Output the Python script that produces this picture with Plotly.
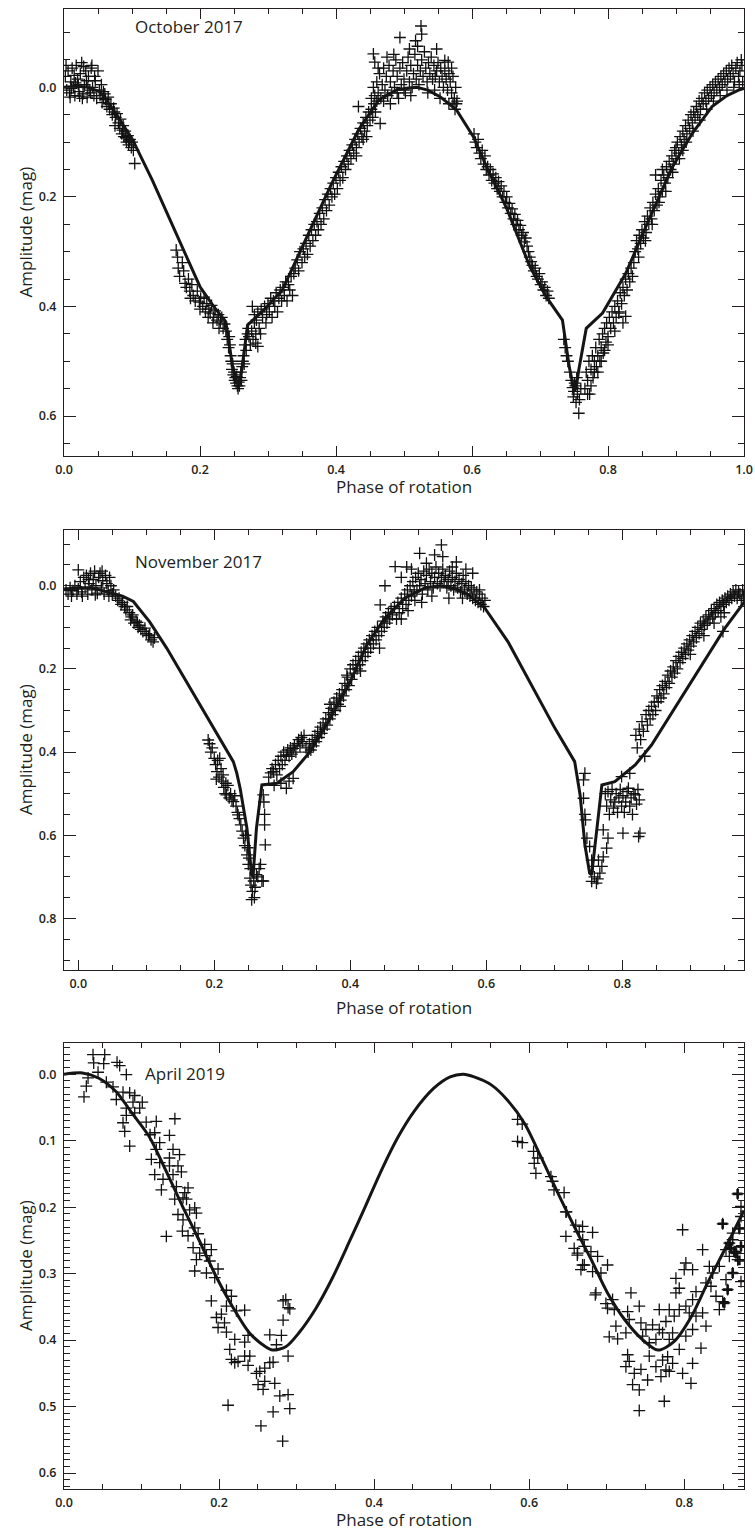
import plotly.graph_objects as go

# ---------------- October 2017 ----------------
oct_points = [
 (0.002,-0.02),(0.004,0.005),(0.006,-0.03),(0.008,0.01),(0.010,-0.01),(0.012,-0.035),(0.014,0.0),(0.016,0.015),
 (0.018,-0.04),(0.020,-0.015),(0.022,0.008),(0.024,-0.025),(0.026,-0.045),(0.028,0.012),(0.030,-0.005),(0.032,-0.03),
 (0.034,0.018),(0.036,-0.02),(0.038,0.005),(0.040,-0.035),(0.042,0.0),(0.044,0.015),(0.046,-0.012),(0.048,0.02),
 (0.050,-0.03),(0.003,-0.04),(0.009,0.018),(0.015,-0.022),(0.021,-0.005),(0.027,0.02),(0.033,-0.012),(0.039,0.01),
 (0.045,-0.02),(0.052,0.005),(0.055,-0.005),(0.058,0.02),(0.011,0.002),(0.017,-0.008),(0.023,0.016),(0.029,-0.038),
 (0.035,0.0),(0.041,-0.04),
 (0.053,0.015),(0.056,0.028),(0.058,0.008),(0.061,0.022),(0.063,0.035),(0.065,0.018),(0.067,0.04),(0.069,0.03),
 (0.071,0.05),(0.073,0.038),(0.075,0.07),(0.076,0.055),(0.078,0.048),(0.08,0.065),(0.082,0.075),(0.083,0.058),
 (0.085,0.085),(0.087,0.07),(0.088,0.09),(0.09,0.08),(0.092,0.1),(0.094,0.088),(0.095,0.105),(0.097,0.095),
 (0.099,0.11),(0.1,0.1),(0.102,0.115),(0.104,0.139),(0.086,0.078),(0.091,0.092),(0.096,0.098),(0.074,0.045),
 (0.066,0.03),(0.06,0.012),
 (0.165,0.297),(0.167,0.31),(0.168,0.33),(0.17,0.345),(0.174,0.32),(0.176,0.335),(0.178,0.358),(0.18,0.365),
 (0.183,0.35),(0.185,0.372),(0.188,0.36),(0.19,0.38),(0.193,0.39),(0.196,0.372),(0.199,0.392),(0.201,0.385),
 (0.204,0.4),(0.206,0.383),(0.208,0.41),(0.21,0.395),(0.213,0.405),(0.215,0.412),(0.217,0.398),(0.22,0.42),
 (0.222,0.408),(0.225,0.425),(0.227,0.415),(0.23,0.428),(0.232,0.42),(0.234,0.44),(0.236,0.432),(0.212,0.42),
 (0.2,0.405),(0.186,0.385),(0.219,0.43),(0.228,0.44),
 (0.238,0.445),(0.24,0.46),(0.242,0.475),(0.243,0.455),(0.245,0.49),(0.246,0.5),(0.247,0.515),(0.248,0.505),
 (0.249,0.525),(0.25,0.52),(0.251,0.535),(0.252,0.53),(0.253,0.54),(0.255,0.545),(0.256,0.55),(0.257,0.538),
 (0.258,0.545),(0.259,0.53),(0.26,0.52),(0.261,0.535),(0.262,0.51),(0.263,0.5),(0.264,0.49),(0.265,0.505),
 (0.266,0.47),(0.267,0.46),(0.268,0.48),(0.27,0.45),(0.271,0.44),(0.272,0.455),(0.274,0.47),(0.276,0.445),
 (0.278,0.46),(0.28,0.43),(0.282,0.45),(0.244,0.47),(0.254,0.528),(0.282,0.467),(0.285,0.473),
 (0.277,0.4),(0.28,0.415),(0.283,0.425),(0.285,0.41),(0.287,0.44),(0.29,0.405),(0.292,0.42),(0.295,0.4),
 (0.297,0.43),(0.3,0.395),(0.302,0.41),(0.304,0.385),(0.306,0.42),(0.308,0.39),(0.31,0.4),(0.312,0.375),
 (0.314,0.41),(0.316,0.385),(0.318,0.37),(0.32,0.39),(0.322,0.365),(0.324,0.38),(0.326,0.355),(0.328,0.39),
 (0.33,0.36),(0.332,0.37),(0.334,0.345),(0.336,0.38),(0.338,0.34),(0.289,0.45),(0.298,0.415),
 (0.34,0.33),(0.343,0.315),(0.345,0.335),(0.347,0.3),(0.35,0.32),(0.352,0.295),(0.354,0.31),(0.356,0.285),
 (0.358,0.305),(0.36,0.27),(0.362,0.29),(0.364,0.26),(0.366,0.28),(0.368,0.25),(0.37,0.27),(0.372,0.245),
 (0.374,0.26),(0.376,0.23),(0.378,0.25),(0.38,0.22),(0.382,0.24),(0.384,0.205),(0.386,0.225),(0.388,0.195),
 (0.39,0.215),(0.392,0.185),(0.394,0.2),(0.396,0.175),(0.398,0.195),(0.4,0.165),(0.402,0.185),(0.404,0.155),
 (0.406,0.17),(0.408,0.145),(0.41,0.165),(0.412,0.135),(0.414,0.15),(0.416,0.125),(0.418,0.14),(0.42,0.115),
 (0.422,0.13),(0.424,0.105),(0.426,0.12),(0.428,0.095),(0.43,0.11),(0.432,0.085),(0.434,0.1),(0.436,0.075),
 (0.438,0.09),(0.44,0.065),(0.442,0.08),(0.444,0.055),(0.446,0.07),(0.448,0.045),(0.45,0.06),(0.452,0.04),
 (0.454,0.055),(0.456,0.03),(0.458,0.045),(0.46,0.025),(0.44,0.095),(0.445,0.09),(0.43,0.125),(0.433,0.035),
 (0.452,0.02),(0.455,0.0),(0.457,0.015),(0.46,-0.01),(0.462,0.01),(0.464,-0.025),(0.466,0.02),(0.468,-0.005),
 (0.47,-0.035),(0.472,0.005),(0.474,-0.02),(0.476,0.015),(0.478,-0.04),(0.48,-0.01),(0.482,0.01),(0.484,-0.03),
 (0.486,0.0),(0.488,-0.05),(0.49,-0.02),(0.492,0.02),(0.494,-0.035),(0.496,-0.005),(0.498,-0.045),(0.5,-0.015),
 (0.502,0.01),(0.504,-0.03),(0.506,-0.055),(0.508,-0.01),(0.51,-0.04),(0.512,0.0),(0.514,-0.025),(0.516,-0.06),
 (0.518,-0.015),(0.52,-0.04),(0.522,-0.005),(0.524,-0.03),(0.526,-0.05),(0.528,-0.02),(0.53,-0.065),(0.532,-0.035),
 (0.534,-0.01),(0.536,-0.045),(0.538,-0.025),(0.54,-0.055),(0.542,-0.015),(0.544,-0.04),(0.546,-0.02),(0.548,-0.03),
 (0.55,-0.045),(0.552,-0.01),(0.554,-0.035),(0.556,-0.02),(0.558,0.0),(0.56,-0.03),(0.562,-0.015),(0.564,0.005),
 (0.566,-0.025),(0.568,-0.01),(0.57,0.01),(0.572,-0.02),(0.574,0.02),(0.576,0.0),(0.578,0.025),(0.566,0.03),
 (0.57,-0.035),(0.525,-0.112),(0.526,-0.097),(0.494,-0.091),(0.517,-0.085),(0.548,-0.07),(0.455,-0.061),(0.457,-0.046),
 (0.56,-0.049),(0.565,-0.046),(0.508,-0.07),(0.52,-0.075),(0.485,-0.06),(0.475,-0.055),(0.462,-0.035),(0.47,0.025),
 (0.48,0.03),(0.49,0.01),(0.5,0.005),(0.51,0.015),(0.545,0.005),(0.535,0.01),(0.553,0.02),(0.575,0.04),
 (0.465,0.066),(0.572,0.029),(0.577,0.03),
 (0.603,0.085),(0.605,0.1),(0.607,0.11),(0.609,0.095),(0.611,0.12),(0.613,0.13),(0.615,0.115),(0.617,0.14),
 (0.619,0.125),(0.621,0.15),(0.623,0.145),(0.625,0.16),(0.627,0.15),(0.629,0.17),(0.631,0.158),(0.633,0.175),
 (0.635,0.165),(0.637,0.185),(0.639,0.172),(0.641,0.19),(0.643,0.18),(0.645,0.2),(0.647,0.19),(0.649,0.21),
 (0.651,0.2),(0.653,0.22),(0.655,0.212),(0.657,0.23),(0.659,0.222),(0.661,0.24),(0.663,0.232),(0.665,0.25),
 (0.667,0.243),(0.669,0.26),(0.671,0.252),(0.673,0.27),(0.675,0.265),(0.677,0.282),(0.679,0.275),(0.681,0.29),
 (0.683,0.3),(0.685,0.31),(0.687,0.318),(0.689,0.325),(0.691,0.335),(0.693,0.33),(0.695,0.345),(0.697,0.35),
 (0.699,0.34),(0.701,0.36),(0.703,0.355),(0.705,0.37),(0.707,0.365),(0.709,0.38),(0.711,0.372),(0.713,0.385),
 (0.735,0.46),(0.737,0.475),(0.739,0.49),(0.741,0.5),(0.744,0.52),(0.746,0.535),(0.748,0.548),(0.75,0.555),
 (0.752,0.545),(0.753,0.575),(0.755,0.56),(0.757,0.595),(0.758,0.57),(0.76,0.55),(0.749,0.565),(0.751,0.54),
 (0.754,0.53),
 (0.766,0.55),(0.768,0.52),(0.77,0.535),(0.772,0.5),(0.773,0.56),(0.775,0.515),(0.777,0.49),(0.778,0.53),
 (0.78,0.5),(0.782,0.475),(0.783,0.51),(0.785,0.49),(0.787,0.46),(0.788,0.5),(0.79,0.475),(0.792,0.45),
 (0.793,0.485),(0.795,0.44),(0.797,0.465),(0.798,0.43),(0.8,0.455),(0.802,0.42),(0.804,0.44),(0.806,0.41),
 (0.808,0.43),(0.81,0.4),(0.812,0.42),(0.814,0.39),(0.816,0.41),(0.818,0.375),(0.82,0.395),(0.822,0.365),
 (0.824,0.38),(0.826,0.35),(0.828,0.37),(0.83,0.34),(0.832,0.355),(0.834,0.33),(0.836,0.345),(0.838,0.32),
 (0.77,0.56),(0.775,0.545),(0.78,0.52),(0.785,0.52),(0.79,0.5),(0.795,0.48),(0.81,0.445),(0.822,0.43),(0.8,0.47),
 (0.816,0.412),(0.826,0.418),
 (0.84,0.3),(0.842,0.28),(0.844,0.295),(0.846,0.27),(0.848,0.285),(0.85,0.26),(0.852,0.275),(0.854,0.245),
 (0.856,0.265),(0.858,0.235),(0.86,0.25),(0.862,0.22),(0.864,0.24),(0.866,0.21),(0.868,0.225),(0.87,0.195),
 (0.872,0.215),(0.874,0.185),(0.876,0.2),(0.878,0.17),(0.88,0.19),(0.882,0.16),(0.884,0.175),(0.886,0.145),
 (0.888,0.165),(0.89,0.135),(0.892,0.15),(0.894,0.125),(0.896,0.14),(0.898,0.115),(0.9,0.13),(0.902,0.1),
 (0.904,0.12),(0.906,0.09),(0.908,0.105),(0.91,0.08),(0.912,0.095),(0.914,0.07),(0.916,0.085),(0.918,0.06),
 (0.92,0.075),(0.922,0.05),(0.924,0.065),(0.926,0.045),(0.928,0.055),(0.93,0.035),(0.932,0.05),(0.934,0.025),
 (0.936,0.04),(0.938,0.02),(0.94,0.03),(0.942,0.01),(0.944,0.025),(0.946,0.005),(0.948,0.02),(0.95,0.0),
 (0.952,0.015),(0.954,-0.005),(0.956,0.01),(0.958,-0.01),(0.96,0.005),(0.962,-0.015),(0.964,0.0),(0.966,-0.02),
 (0.968,-0.005),(0.97,-0.025),(0.972,-0.01),(0.974,-0.03),(0.976,-0.015),(0.978,-0.035),(0.98,-0.02),(0.982,-0.04),
 (0.984,-0.025),(0.986,-0.01),(0.988,-0.035),(0.99,-0.045),(0.992,-0.02),(0.994,-0.03),(0.996,-0.05),(0.998,-0.01),
 (0.997,-0.04),(0.993,-0.005),(0.985,0.0),(0.975,0.005),(0.965,0.015),(0.955,0.025),(0.945,0.04),(0.935,0.06),
 (0.925,0.08),(0.915,0.1),(0.905,0.13),(0.895,0.155),(0.885,0.19),(0.875,0.21),(0.865,0.25),(0.855,0.28),
 (0.845,0.31),(0.87,0.16),(0.88,0.15),(0.9,0.11),(0.91,0.115),
]
oct_model = [
 (0.0,0.0),(0.02,-0.002),(0.035,0.0),(0.053,0.008),(0.075,0.045),(0.101,0.096),(0.13,0.17),(0.16,0.254),
 (0.2,0.364),(0.22,0.4),(0.238,0.428),(0.243,0.47),(0.248,0.51),(0.255,0.54),(0.258,0.542),(0.261,0.52),
 (0.265,0.48),(0.27,0.434),(0.295,0.405),(0.321,0.37),(0.355,0.279),(0.394,0.175),(0.433,0.078),(0.463,0.023),
 (0.49,0.004),(0.519,0.0),(0.535,0.005),(0.553,0.017),(0.577,0.041),(0.602,0.09),(0.625,0.155),(0.65,0.218),
 (0.685,0.327),(0.709,0.382),(0.733,0.425),(0.738,0.47),(0.743,0.51),(0.75,0.552),(0.753,0.55),(0.757,0.516),
 (0.763,0.475),(0.768,0.44),(0.792,0.412),(0.826,0.34),(0.86,0.242),(0.895,0.145),(0.924,0.084),(0.953,0.035),
 (0.975,0.015),(0.992,0.005),(1.0,0.002),
]

# ---------------- November 2017 ----------------
nov_points = [
 (-0.018,0.01),(-0.015,0.02),(-0.012,0.005),(-0.01,0.025),(-0.008,0.012),(-0.005,0.0),(-0.002,0.02),(0.0,-0.038),
 (0.0,0.008),(0.003,-0.01),(0.005,0.015),(0.008,-0.02),(0.01,0.005),(0.012,-0.025),(0.014,0.02),(0.016,-0.005),
 (0.018,-0.03),(0.02,0.01),(0.022,-0.015),(0.024,-0.035),(0.026,0.0),(0.028,0.018),(0.03,-0.02),(0.032,-0.03),
 (0.034,0.005),(0.036,-0.012),(0.038,0.02),(0.04,-0.025),(0.042,-0.005),(0.044,0.012),(0.046,-0.02),(0.048,0.0),
 (0.05,0.02),(0.052,0.01),(0.006,0.025),(0.015,-0.015),(0.025,0.022),(0.035,-0.035),(0.045,0.025),
 (0.055,0.025),(0.058,0.035),(0.06,0.03),(0.063,0.045),(0.065,0.04),(0.068,0.05),(0.07,0.058),(0.072,0.05),
 (0.075,0.065),(0.078,0.075),(0.08,0.07),(0.082,0.09),(0.085,0.085),(0.088,0.1),(0.09,0.095),(0.092,0.105),
 (0.095,0.11),(0.098,0.102),(0.1,0.115),(0.103,0.12),(0.105,0.118),(0.107,0.13),(0.11,0.135),(0.112,0.125),
 (0.087,0.088),(0.077,0.082),
 (0.191,0.371),(0.193,0.38),(0.195,0.4),(0.197,0.39),(0.2,0.415),(0.202,0.43),(0.204,0.447),(0.205,0.42),
 (0.207,0.46),(0.208,0.415),(0.21,0.44),(0.211,0.47),(0.213,0.455),(0.214,0.485),(0.216,0.5),(0.218,0.503),
 (0.22,0.48),(0.222,0.51),(0.224,0.5),(0.226,0.515),(0.228,0.519),(0.23,0.505),(0.232,0.53),(0.234,0.545),
 (0.235,0.551),(0.237,0.56),(0.239,0.575),(0.203,0.465),(0.217,0.475),
 (0.241,0.59),(0.243,0.607),(0.245,0.625),(0.246,0.6),(0.248,0.647),(0.249,0.63),(0.25,0.67),(0.251,0.655),
 (0.2525,0.703),(0.253,0.68),(0.254,0.72),(0.255,0.755),(0.256,0.735),(0.258,0.71),(0.26,0.725),(0.262,0.695),
 (0.264,0.7),(0.266,0.68),(0.268,0.67),(0.27,0.71),(0.272,0.71),(0.259,0.75),(0.272,0.503),(0.274,0.55),
 (0.274,0.575),(0.275,0.623),(0.273,0.52),
 (0.28,0.46),(0.283,0.45),(0.285,0.44),(0.287,0.447),(0.29,0.43),(0.292,0.455),(0.294,0.42),(0.296,0.44),
 (0.298,0.41),(0.3,0.43),(0.302,0.4),(0.304,0.42),(0.306,0.407),(0.308,0.395),(0.31,0.41),(0.312,0.39),
 (0.314,0.405),(0.316,0.391),(0.318,0.385),(0.32,0.4),(0.322,0.38),(0.324,0.37),(0.326,0.385),(0.328,0.365),
 (0.33,0.375),(0.332,0.36),(0.306,0.487),(0.316,0.463),(0.298,0.475),(0.288,0.48),(0.31,0.47),
 (0.335,0.39),(0.338,0.4),(0.34,0.38),(0.342,0.395),(0.344,0.37),(0.346,0.385),(0.348,0.36),(0.35,0.375),
 (0.352,0.35),(0.354,0.365),(0.356,0.34),(0.358,0.355),(0.36,0.33),(0.362,0.345),(0.364,0.32),(0.366,0.335),
 (0.368,0.305),(0.37,0.32),(0.372,0.295),(0.374,0.31),(0.376,0.28),(0.378,0.3),(0.38,0.27),(0.382,0.285),
 (0.384,0.26),(0.386,0.275),(0.388,0.25),(0.39,0.265),(0.392,0.235),(0.394,0.25),(0.396,0.22),(0.398,0.24),
 (0.4,0.2),(0.402,0.225),(0.404,0.19),(0.406,0.21),(0.408,0.18),(0.41,0.2),(0.412,0.17),(0.414,0.19),
 (0.416,0.16),(0.418,0.18),(0.42,0.15),(0.422,0.17),(0.424,0.14),(0.426,0.16),(0.428,0.13),(0.43,0.15),
 (0.432,0.12),(0.434,0.14),(0.436,0.11),(0.438,0.13),(0.44,0.1),(0.442,0.12),(0.444,0.046),(0.446,0.11),
 (0.448,0.085),(0.45,0.1),(0.452,0.075),(0.454,0.09),(0.456,0.065),(0.458,0.08),(0.46,0.055),(0.37,0.285),
 (0.385,0.29),(0.395,0.215),(0.415,0.205),(0.443,0.15),
 (0.462,0.07),(0.465,0.05),(0.468,0.08),(0.47,0.04),(0.472,0.065),(0.475,0.03),(0.477,0.055),(0.48,0.02),
 (0.482,0.045),(0.484,0.01),(0.486,0.035),(0.488,0.0),(0.49,0.025),(0.492,-0.01),(0.494,0.015),(0.496,-0.02),
 (0.498,0.01),(0.5,-0.03),(0.502,0.0),(0.504,-0.015),(0.506,0.02),(0.508,-0.035),(0.51,-0.005),(0.512,-0.025),
 (0.514,0.01),(0.516,-0.04),(0.518,-0.01),(0.52,-0.03),(0.522,0.005),(0.524,-0.02),(0.526,-0.045),(0.528,-0.005),
 (0.53,-0.03),(0.532,0.0),(0.534,-0.02),(0.536,-0.04),(0.538,-0.01),(0.54,-0.025),(0.542,0.005),(0.544,-0.015),
 (0.546,-0.035),(0.548,0.0),(0.55,-0.02),(0.552,0.01),(0.554,-0.01),(0.556,-0.03),(0.558,0.005),(0.56,-0.015),
 (0.562,0.015),(0.564,-0.005),(0.566,-0.025),(0.568,0.01),(0.57,-0.01),(0.572,0.02),(0.574,0.0),(0.576,0.025),
 (0.578,0.005),(0.58,0.03),(0.582,0.01),(0.584,0.035),(0.586,0.015),(0.588,0.04),(0.59,0.02),(0.592,0.045),
 (0.594,0.03),(0.596,0.05),(0.598,0.035),(0.534,-0.098),(0.502,-0.078),(0.524,-0.074),(0.536,-0.07),(0.466,-0.046),
 (0.483,-0.045),(0.556,-0.057),(0.512,-0.054),(0.451,0.0),(0.475,-0.02),(0.49,-0.04),(0.55,-0.045),(0.57,-0.04),
 (0.58,-0.03),(0.545,0.03),(0.52,0.025),(0.505,0.04),(0.495,0.035),(0.485,0.06),(0.475,0.08),(0.565,0.03),
 (0.59,0.01),
 (0.745,0.451),(0.743,0.467),(0.743,0.511),(0.745,0.55),(0.746,0.563),(0.748,0.607),(0.752,0.627),(0.755,0.66),
 (0.757,0.675),(0.755,0.711),(0.762,0.715),(0.767,0.691),(0.77,0.675),(0.765,0.66),(0.772,0.652),(0.777,0.631),
 (0.772,0.587),(0.779,0.607),(0.759,0.7),(0.764,0.705),
 (0.775,0.5),(0.777,0.53),(0.779,0.495),(0.781,0.55),(0.783,0.515),(0.785,0.49),(0.787,0.535),(0.789,0.52),
 (0.791,0.5),(0.793,0.545),(0.795,0.51),(0.797,0.49),(0.799,0.53),(0.801,0.505),(0.803,0.545),(0.805,0.52),
 (0.807,0.495),(0.809,0.487),(0.811,0.53),(0.813,0.51),(0.815,0.55),(0.817,0.5),(0.819,0.503),(0.821,0.525),
 (0.823,0.49),(0.825,0.515),(0.801,0.595),(0.824,0.603),(0.826,0.595),(0.799,0.459),(0.811,0.451),
 (0.82,0.36),(0.822,0.39),(0.825,0.345),(0.827,0.37),(0.829,0.327),(0.831,0.35),(0.833,0.41),(0.835,0.31),
 (0.837,0.335),(0.839,0.3),(0.841,0.32),(0.843,0.29),(0.845,0.31),(0.847,0.28),(0.849,0.3),(0.851,0.265),
 (0.853,0.279),(0.855,0.25),(0.857,0.27),(0.859,0.24),(0.861,0.26),(0.863,0.23),(0.865,0.245),(0.867,0.215),
 (0.869,0.235),(0.871,0.205),(0.873,0.22),(0.875,0.195),(0.877,0.21),(0.879,0.18),(0.881,0.2),(0.883,0.17),
 (0.885,0.185),(0.887,0.16),(0.889,0.175),(0.891,0.15),(0.893,0.165),(0.895,0.14),(0.897,0.155),(0.899,0.13),
 (0.901,0.145),(0.903,0.12),(0.905,0.135),(0.907,0.11),(0.909,0.125),(0.911,0.1),(0.913,0.115),(0.915,0.09),
 (0.917,0.105),(0.919,0.085),(0.921,0.095),(0.923,0.075),(0.925,0.09),(0.927,0.07),(0.929,0.08),(0.931,0.06),
 (0.933,0.075),(0.935,0.055),(0.937,0.065),(0.939,0.045),(0.941,0.06),(0.943,0.04),(0.945,0.05),(0.947,0.035),
 (0.949,0.045),(0.951,0.03),(0.953,0.04),(0.955,0.025),(0.957,0.035),(0.959,0.02),(0.961,0.03),(0.963,0.015),
 (0.965,0.025),(0.967,0.01),(0.969,0.03),(0.971,0.015),(0.973,0.02),(0.975,0.035),(0.977,0.01),(0.978,0.025),
 (0.945,0.075),(0.95,0.065),(0.935,0.09),(0.92,0.12),(0.9,0.165),(0.948,0.11),
]
nov_model = [
 (-0.021,0.01),(0.0,0.005),(0.02,0.005),(0.047,0.018),(0.065,0.025),(0.081,0.038),(0.105,0.087),(0.13,0.15),
 (0.159,0.231),(0.194,0.327),(0.228,0.423),(0.233,0.45),(0.238,0.487),(0.248,0.583),(0.255,0.695),(0.257,0.7),
 (0.262,0.583),(0.27,0.479),(0.292,0.475),(0.316,0.447),(0.341,0.399),(0.365,0.335),(0.4,0.231),(0.424,0.143),
 (0.45,0.08),(0.48,0.03),(0.51,0.005),(0.534,0.0),(0.555,0.008),(0.574,0.022),(0.598,0.054),(0.632,0.135),
 (0.667,0.239),(0.701,0.343),(0.73,0.423),(0.738,0.503),(0.745,0.623),(0.752,0.691),(0.755,0.695),(0.76,0.623),
 (0.77,0.479),(0.789,0.471),(0.819,0.431),(0.843,0.383),(0.877,0.295),(0.917,0.191),(0.951,0.102),(0.979,0.04),
]

# ---------------- April 2019 ----------------
apr_points = [
 (0.0374,-0.0295),(0.0525,-0.0295),(0.0383,-0.017),(0.0512,-0.016),(0.0684,-0.018),(0.0718,-0.013),(0.0439,-0.003),
 (0.0804,0.0006),(0.031,0.0056),(0.0288,0.018),(0.0258,0.034),(0.0546,0.012),(0.0632,0.019),(0.0761,0.027),
 (0.0847,0.028),(0.0912,0.032),(0.0675,0.038),(0.089,0.042),(0.101,0.042),(0.0804,0.051),(0.0976,0.051),
 (0.0912,0.058),(0.0804,0.062),(0.0761,0.073),(0.106,0.072),(0.119,0.071),(0.143,0.067),(0.0783,0.086),
 (0.117,0.088),(0.111,0.091),(0.136,0.092),(0.1234,0.103),(0.0847,0.108),(0.119,0.113),(0.1406,0.113),
 (0.136,0.126),(0.149,0.121),(0.1127,0.128),(0.1234,0.133),(0.136,0.138),(0.147,0.138),(0.1514,0.147),
 (0.117,0.151),(0.1277,0.158),(0.1406,0.151),(0.1256,0.174),(0.145,0.169),(0.16,0.171),(0.1557,0.178),
 (0.1535,0.186),(0.158,0.188),(0.1428,0.188),(0.162,0.204),(0.1686,0.201),(0.1708,0.209),(0.147,0.211),
 (0.1535,0.219),(0.132,0.244),(0.1686,0.231),(0.1527,0.236),(0.16,0.243),(0.173,0.24),(0.1665,0.261),
 (0.1815,0.256),(0.19,0.264),(0.175,0.269),(0.1837,0.273),(0.1708,0.279),(0.188,0.281),(0.1686,0.296),
 (0.1837,0.299),(0.1987,0.293),(0.1944,0.306),(0.19,0.341),(0.2095,0.325),(0.2159,0.334),(0.2095,0.349),
 (0.2224,0.356),(0.233,0.355),(0.203,0.361),(0.1966,0.366),(0.207,0.374),(0.1987,0.381),(0.2095,0.388),
 (0.2202,0.399),(0.233,0.403),(0.2374,0.393),(0.2138,0.414),(0.2159,0.429),(0.2245,0.432),(0.233,0.424),
 (0.2396,0.424),(0.2374,0.438),(0.2202,0.434),(0.2482,0.45),(0.2525,0.447),(0.2589,0.442),(0.2654,0.434),
 (0.2697,0.433),(0.2503,0.467),(0.2589,0.462),(0.2718,0.465),(0.2568,0.474),(0.2654,0.392),(0.2804,0.393),
 (0.274,0.407),(0.289,0.424),(0.2826,0.341),(0.286,0.339),(0.289,0.351),(0.2912,0.353),(0.2826,0.37),
 (0.2783,0.484),(0.289,0.482),(0.2912,0.503),(0.2697,0.508),(0.2116,0.498),(0.282,0.552),(0.254,0.529),
 (0.585,0.068),(0.591,0.075),(0.585,0.101),(0.591,0.103),(0.6056,0.116),(0.611,0.126),(0.6065,0.134),
 (0.6086,0.149),(0.628,0.154),(0.630,0.161),(0.632,0.174),(0.645,0.178),(0.6473,0.207),(0.66,0.227),
 (0.6688,0.229),(0.6817,0.238),(0.6473,0.244),(0.658,0.262),(0.6624,0.269),(0.671,0.259),(0.6796,0.267),
 (0.6882,0.274),(0.6688,0.287),(0.6667,0.294),(0.6817,0.297),(0.6925,0.299),(0.701,0.287),(0.686,0.329),
 (0.648,0.207),(0.6645,0.237),(0.669,0.249),(0.662,0.272),(0.671,0.287),(0.6852,0.332),(0.6989,0.345),
 (0.7075,0.339),(0.7097,0.354),(0.701,0.352),(0.7269,0.357),(0.729,0.369),(0.7118,0.379),(0.7032,0.395),
 (0.714,0.398),(0.7247,0.389),(0.7312,0.329),(0.7419,0.349),(0.7441,0.374),(0.7505,0.384),(0.7591,0.377),
 (0.7677,0.354),(0.7806,0.354),(0.7677,0.384),(0.7763,0.372),(0.787,0.364),(0.7935,0.354),(0.7892,0.329),
 (0.7935,0.322),(0.7892,0.307),(0.7999,0.294),(0.802,0.284),(0.8107,0.294),(0.7978,0.234),(0.8236,0.264),
 (0.8323,0.289),(0.828,0.314),(0.8151,0.327),(0.8107,0.339),(0.802,0.349),(0.8064,0.359),(0.8151,0.364),
 (0.8236,0.359),(0.828,0.379),(0.8107,0.384),(0.802,0.394),(0.8215,0.412),(0.7935,0.414),(0.7462,0.394),
 (0.7548,0.404),(0.7634,0.399),(0.772,0.389),(0.7806,0.399),(0.7849,0.389),(0.7269,0.422),(0.729,0.432),
 (0.7247,0.44),(0.7355,0.45),(0.7441,0.444),(0.7548,0.424),(0.7634,0.44),(0.772,0.43),(0.7785,0.425),
 (0.7849,0.435),(0.7763,0.445),(0.7806,0.447),(0.7699,0.455),(0.7527,0.46),(0.7333,0.467),(0.7419,0.475),
 (0.7978,0.45),(0.8086,0.465),(0.8107,0.435),(0.7742,0.492),(0.7419,0.506),(0.8344,0.319),(0.8366,0.299),
 (0.8409,0.334),(0.8452,0.354),(0.8495,0.342),(0.8452,0.289),(0.8538,0.264),(0.8581,0.254),(0.8624,0.239),
 (0.8495,0.225),(0.871,0.232),(0.8688,0.18),(0.8731,0.199),(0.8731,0.214),(0.8731,0.259),(0.8688,0.279),
 (0.8731,0.312),(0.8559,0.324),(0.8516,0.344),(0.8624,0.299),(0.8538,0.309),(0.8667,0.269),(0.8581,0.274),
 (0.8624,0.249),(0.8645,0.267),
]
apr_bold_points = [
 (0.8495,0.225),(0.8688,0.18),(0.8559,0.324),(0.8516,0.344),(0.871,0.28),(0.8731,0.259),(0.8624,0.299),
 (0.8667,0.269),(0.8581,0.254),(0.8645,0.267),(0.871,0.232),(0.8602,0.262),
]
apr_model = [
 (0.0,0.0),(0.024,-0.002),(0.045,0.006),(0.067,0.026),(0.088,0.059),(0.11,0.094),(0.131,0.144),(0.153,0.199),
 (0.174,0.249),(0.196,0.304),(0.217,0.349),(0.239,0.389),(0.26,0.41),(0.269,0.415),(0.286,0.41),(0.303,0.389),
 (0.325,0.352),(0.346,0.307),(0.368,0.252),(0.389,0.198),(0.41,0.143),(0.431,0.094),(0.452,0.055),(0.477,0.021),
 (0.498,0.004),(0.515,0.0),(0.529,0.004),(0.551,0.016),(0.572,0.039),(0.594,0.074),(0.615,0.124),(0.637,0.179),
 (0.658,0.229),(0.68,0.279),(0.701,0.329),(0.723,0.369),(0.744,0.397),(0.766,0.415),(0.787,0.402),(0.809,0.365),
 (0.83,0.314),(0.852,0.264),(0.877,0.205),
]

panel_titles = ["October 2017", "November 2017", "April 2019"]
x_title = "Phase of rotation"
y_title = "Amplitude (mag)"

# ---------------- layout helpers ----------------
W, H = 755, 1533
INK = "#231f20"

def px(xp):
    return xp / W

def py(yp):
    return 1 - yp / H

panels = [
    dict(points=oct_points, model=oct_model, xr=[0.0, 1.0], yr=[0.673, -0.143],
         top=9, bottom=456, ydt=0.2, yminor=0.05, title_pos=(133, 27), xt=487, shape="linear"),
    dict(points=nov_points, model=nov_model, xr=[-0.021, 0.979], yr=[0.924, -0.134],
         top=530, bottom=970, ydt=0.2, yminor=0.05, title_pos=(133, 561), xt=1007, shape="linear"),
    dict(points=apr_points, model=apr_model, xr=[0.0, 0.877], yr=[0.624, -0.047],
         top=1043, bottom=1489, ydt=0.1, yminor=0.01, title_pos=(143, 1073), xt=1519, shape="spline"),
]
LEFT, RIGHT = 64, 744

fig = go.Figure()
annotations = []
tickfont = dict(family="Open Sans", size=12.5, color=INK, weight=600)

for i, p in enumerate(panels, start=1):
    xa = "x" if i == 1 else f"x{i}"
    ya = "y" if i == 1 else f"y{i}"
    fig.add_trace(go.Scatter(
        x=[a for a, b in p["points"]], y=[b for a, b in p["points"]],
        xaxis=xa, yaxis=ya, mode="markers",
        marker=dict(symbol="cross-thin", size=8.5, line=dict(width=1.3, color="#111111")),
        showlegend=False, hoverinfo="skip"))
    if i == 3:
        fig.add_trace(go.Scatter(
            x=[a for a, b in apr_bold_points], y=[b for a, b in apr_bold_points],
            xaxis=xa, yaxis=ya, mode="markers",
            marker=dict(symbol="cross-thin", size=7, line=dict(width=2.6, color="#111111")),
            showlegend=False, hoverinfo="skip"))
    fig.add_trace(go.Scatter(
        x=[a for a, b in p["model"]], y=[b for a, b in p["model"]],
        xaxis=xa, yaxis=ya, mode="lines",
        line=dict(color="#151515", width=3, shape=p["shape"], smoothing=0.8),
        showlegend=False, hoverinfo="skip"))

    xkey = "xaxis" if i == 1 else f"xaxis{i}"
    ykey = "yaxis" if i == 1 else f"yaxis{i}"
    fig.update_layout(**{
        xkey: dict(domain=[px(LEFT), px(RIGHT)], anchor=ya, range=p["xr"], automargin=False,
                   tick0=0, dtick=0.2, tickformat=".1f", ticks="inside", ticklen=10,
                   tickcolor=INK, tickwidth=1, showline=True, linecolor=INK, linewidth=1,
                   mirror="allticks", showgrid=False, zeroline=False, tickfont=tickfont,
                   minor=dict(dtick=0.05, tick0=0, ticks="inside", ticklen=5, tickcolor=INK,
                              showgrid=False),
                   ticklabelstandoff=2),
        ykey: dict(domain=[py(p["bottom"]), py(p["top"])], anchor=xa, range=p["yr"], automargin=False,
                   tick0=0, dtick=p["ydt"], tickformat=".1f", ticks="inside", ticklen=12,
                   tickcolor=INK, tickwidth=1, showline=True, linecolor=INK, linewidth=1,
                   mirror="allticks", showgrid=False, zeroline=False, tickfont=tickfont,
                   minor=dict(dtick=p["yminor"], tick0=0, ticks="inside", ticklen=6,
                              tickcolor=INK, showgrid=False),
                   ticklabelstandoff=4),
    })
    tx, ty = p["title_pos"]
    annotations.append(dict(text=panel_titles[i - 1], x=px(tx), y=py(ty), xref="paper", yref="paper",
                            xanchor="left", yanchor="middle", showarrow=False,
                            font=dict(family="Open Sans", size=17, color=INK)))
    annotations.append(dict(text=x_title, x=px((LEFT + RIGHT) / 2), y=py(p["xt"]), xref="paper",
                            yref="paper", xanchor="center", yanchor="middle", showarrow=False,
                            font=dict(family="Open Sans", size=17, color=INK)))
    annotations.append(dict(text=y_title, x=px(25), y=py((p["top"] + p["bottom"]) / 2),
                            xref="paper", yref="paper", xanchor="center", yanchor="middle",
                            textangle=-90, showarrow=False,
                            font=dict(family="Open Sans", size=17, color=INK)))

fig.update_layout(width=W, height=H, margin=dict(l=0, r=0, t=0, b=0),
                  paper_bgcolor="white", plot_bgcolor="white", annotations=annotations)

fig.write_html("out.html")
